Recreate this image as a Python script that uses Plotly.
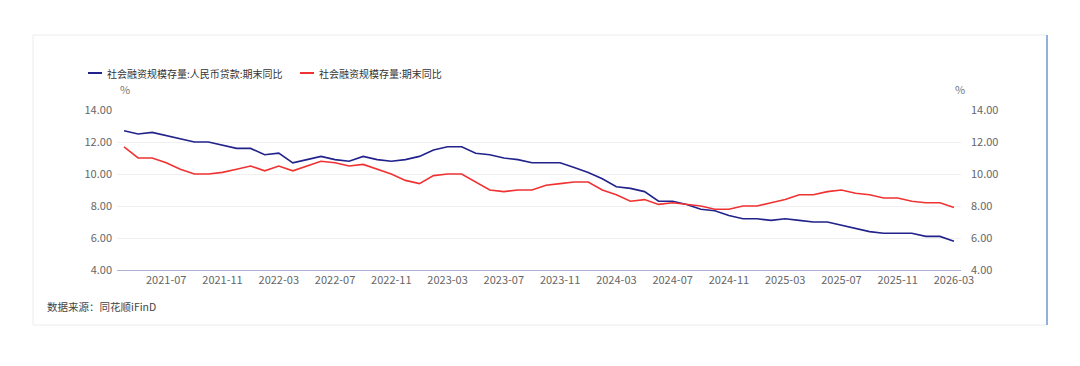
import plotly.graph_objects as go

# ---- data ----
months = [f"{y}-{m:02d}" for y in range(2021, 2027) for m in range(1, 13)]
months = months[months.index("2021-04"):months.index("2026-03") + 1]

loan_yoy = [12.7, 12.5, 12.6, 12.4, 12.2, 12.0, 12.0, 11.8, 11.6, 11.6, 11.2, 11.3, 10.7, 10.9, 11.1,
            10.9, 10.8, 11.1, 10.9, 10.8, 10.9, 11.1, 11.5, 11.7, 11.7, 11.3, 11.2, 11.0, 10.9, 10.7,
            10.7, 10.7, 10.4, 10.1, 9.7, 9.2, 9.1, 8.9, 8.3, 8.3, 8.1, 7.8, 7.7, 7.4, 7.2,
            7.2, 7.1, 7.2, 7.1, 7.0, 7.0, 6.8, 6.6, 6.4, 6.3, 6.3, 6.3, 6.1, 6.1, 5.8]
tsf_yoy = [11.7, 11.0, 11.0, 10.7, 10.3, 10.0, 10.0, 10.1, 10.3, 10.5, 10.2, 10.5, 10.2, 10.5, 10.8,
           10.7, 10.5, 10.6, 10.3, 10.0, 9.6, 9.4, 9.9, 10.0, 10.0, 9.5, 9.0, 8.9, 9.0, 9.0,
           9.3, 9.4, 9.5, 9.5, 9.0, 8.7, 8.3, 8.4, 8.1, 8.2, 8.1, 8.0, 7.8, 7.8, 8.0,
           8.0, 8.2, 8.4, 8.7, 8.7, 8.9, 9.0, 8.8, 8.7, 8.5, 8.5, 8.3, 8.2, 8.2, 7.9]

series_names = ["社会融资规模存量:人民币贷款:期末同比", "社会融资规模存量:期末同比"]
x_ticks = ["2021-07", "2021-11", "2022-03", "2022-07", "2022-11", "2023-03", "2023-07",
           "2023-11", "2024-03", "2024-07", "2024-11", "2025-03", "2025-07", "2025-11", "2026-03"]
y_ticks = [4, 6, 8, 10, 12, 14]
source_text = "数据来源：同花顺iFinD"

BLUE = "#22228c"
RED = "#f03232"
FONT = "Noto Sans CJK SC, sans-serif"

# ---- layout geometry (page pixels; page body adds an 8px margin) ----
OFF = 8
W, H = 1080 - 2 * OFF, 366 - 2 * OFF
L, R, T, B = 117, 961, 110, 270   # plot area in page pixels

def px(xp):
    return (xp - L) / (R - L)

def py(yp):
    return (B - yp) / (B - T)

fig = go.Figure()
fig.add_trace(go.Scatter(x=months, y=loan_yoy, mode="lines", name=series_names[0],
                         line=dict(color=BLUE, width=1.6), yaxis="y"))
fig.add_trace(go.Scatter(x=months, y=tsf_yoy, mode="lines", name=series_names[1],
                         line=dict(color=RED, width=1.6), yaxis="y2"))

tick_font = dict(family=FONT, size=11, color="#666666")

fig.update_layout(
    width=W, height=H,
    margin=dict(l=L - OFF, r=(W + OFF) - R, t=T - OFF, b=(H + OFF) - B, pad=0),
    paper_bgcolor="white", plot_bgcolor="white",
    showlegend=False,
    font=dict(family=FONT),
    xaxis=dict(type="category", categoryorder="array", categoryarray=months,
               range=[-0.5, len(months) - 0.5],
               tickmode="array", tickvals=x_ticks, ticktext=x_ticks,
               tickfont=tick_font, showgrid=False, zeroline=False,
               showline=True, linecolor="#aab2d6", linewidth=1, ticks="", tickangle=0),
    yaxis=dict(range=[4, 14], tickmode="array", tickvals=y_ticks, tickformat=".2f",
               tickfont=tick_font, showgrid=True, gridcolor="#f0f0f0", gridwidth=1,
               zeroline=False, showline=False, ticks="", ticklabelstandoff=4),
    yaxis2=dict(range=[4, 14], tickmode="array", tickvals=y_ticks, tickformat=".2f",
                tickfont=tick_font, overlaying="y", side="right", showgrid=False,
                zeroline=False, showline=False, ticks="", ticklabelstandoff=9),
)

shapes = []
ann = []

# card border
shapes.append(dict(type="rect", xref="paper", yref="paper",
                   x0=px(33), x1=px(1047), y0=py(325), y1=py(35),
                   line=dict(color="#ececec", width=1), layer="below"))
shapes.append(dict(type="line", xref="paper", yref="paper",
                   x0=px(1047), x1=px(1047), y0=py(325), y1=py(35),
                   line=dict(color="#4a86c8", width=1.2)))

# legend (manual)
legend_items = [(88, series_names[0], BLUE), (300, series_names[1], RED)]
for x0, name, col in legend_items:
    shapes.append(dict(type="line", xref="paper", yref="paper",
                       x0=px(x0), x1=px(x0 + 14), y0=py(73), y1=py(73),
                       line=dict(color=col, width=2)))
    ann.append(dict(xref="paper", yref="paper", x=px(x0 + 17), y=py(73),
                    xanchor="left", yanchor="middle", showarrow=False, text=name,
                    font=dict(family=FONT, size=10, color="#333333")))

# unit labels
ann.append(dict(xref="paper", yref="paper", x=px(118), y=py(89), xanchor="left",
                yanchor="middle", showarrow=False, text="%",
                font=dict(family=FONT, size=11, color="#777777")))
ann.append(dict(xref="paper", yref="paper", x=px(953), y=py(89), xanchor="left",
                yanchor="middle", showarrow=False, text="%",
                font=dict(family=FONT, size=11, color="#777777")))

# source
ann.append(dict(xref="paper", yref="paper", x=px(45), y=py(306), xanchor="left",
                yanchor="middle", showarrow=False, text=source_text,
                font=dict(family=FONT, size=10.5, color="#444444")))

fig.update_layout(shapes=shapes, annotations=ann)
fig.write_html("out.html")
